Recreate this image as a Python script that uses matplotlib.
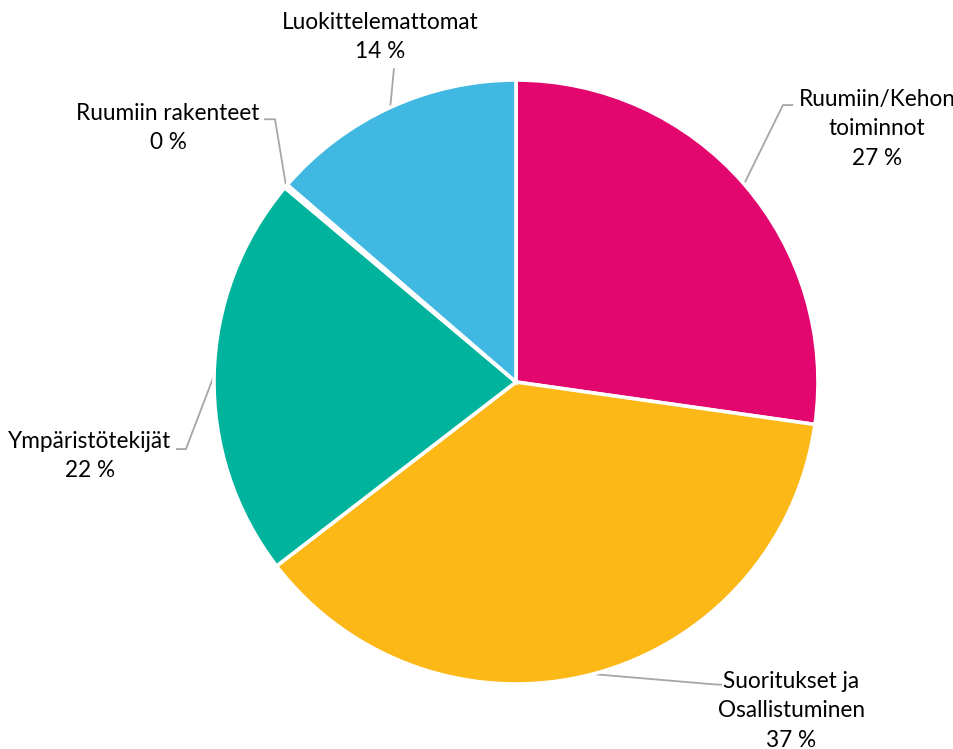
import numpy as np
import matplotlib.pyplot as plt

plt.rcParams['font.family'] = ['Lato', 'DejaVu Sans']

# slices in clockwise order from 12 o'clock
categories = ['Ruumiin/Kehon\ntoiminnot', 'Suoritukset ja\nOsallistuminen',
              'Ympäristötekijät', 'Ruumiin rakenteet', 'Luokittelemattomat']
values = [27.3, 37.4, 21.6, 0.2, 13.7]
colors = ['#E3066F', '#FBB817', '#00B39D', '#8A6DAF', '#41B8E2']

# label layout (data units, pie radius = 1): text centre, elbow point, line end
label_pos = [(1.195, 0.839), (0.912, -1.088), (-1.411, -0.245), (-1.152, 0.841), (-0.450, 1.142)]
elbows = [(0.884, 0.917), (0.665, -1.002), (-1.093, -0.222), (-0.798, 0.870), (-0.404, 1.039)]
ends = [(0.918, 0.917), (0.682, -1.002), (-1.126, -0.222), (-0.834, 0.870), (-0.404, 1.039)]

fig = plt.figure(figsize=(9.54, 7.49), dpi=100)
ax = fig.add_axes([0, 0, 1, 1])

wedges, _ = ax.pie(values, colors=colors, startangle=90, counterclock=False,
                   radius=1.0, wedgeprops=dict(edgecolor='white', linewidth=2.6))

total = sum(values)
for w, cat, v, (tx, ty), el, en in zip(wedges, categories, values, label_pos, elbows, ends):
    mid = np.deg2rad((w.theta1 + w.theta2) / 2)
    sx, sy = np.cos(mid), np.sin(mid)
    ax.plot([sx, el[0], en[0]], [sy, el[1], en[1]], color='#A6A6A6', lw=1.3,
            solid_capstyle='butt', zorder=0)
    pct = int(round(v / total * 100))
    ax.text(tx, ty, f'{cat}\n{pct} %', ha='center', va='center', fontsize=16.3,
            color='black', linespacing=1.5)

# map pixels so that the pie centre sits at (516, 382) with radius 302 px
s = 302.0
ax.set_xlim(-516 / s, (954 - 516) / s)
ax.set_ylim((382 - 749) / s, 382 / s)
ax.set_aspect('auto')
ax.axis('off')

fig.savefig('out.png', dpi=100, facecolor='white')
